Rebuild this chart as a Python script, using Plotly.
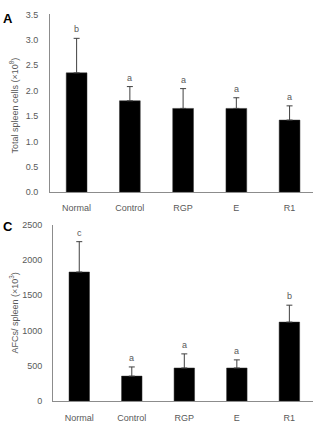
import plotly.graph_objects as go
from plotly.subplots import make_subplots

categories = ["Normal", "Control", "RGP", "E", "R1"]

# Panel A: total spleen cells (x10^8)
cells_mean = [2.35, 1.80, 1.65, 1.65, 1.42]
cells_err = [0.68, 0.28, 0.39, 0.21, 0.28]
cells_letters = ["b", "a", "a", "a", "a"]

# Panel C: AFCs per spleen (x10^3)
afc_mean = [1830, 355, 470, 470, 1120]
afc_err = [430, 130, 200, 115, 240]
afc_letters = ["c", "a", "a", "a", "b"]

W, H = 313, 426
TXT = "#595959"
AX = "#8c8c8c"
FONT = "Liberation Sans, Arial, sans-serif"

fig = go.Figure()

def add_panel(xa, ya, means, errs):
    fig.add_trace(go.Bar(
        x=categories, y=means, xaxis=xa, yaxis=ya,
        marker=dict(color="black", line=dict(color="#333333", width=0.5)),
        width=0.39,
        error_y=dict(type="data", symmetric=False, array=errs,
                     arrayminus=[0] * len(errs), color="#404040",
                     thickness=1, width=3),
        showlegend=False, hoverinfo="skip",
    ))

add_panel("x", "y", cells_mean, cells_err)
add_panel("x2", "y2", afc_mean, afc_err)

def top_pos(px, H=H):
    return 1 - px / H

axis_common = dict(showline=True, linecolor=AX, linewidth=1, showgrid=False,
                   zeroline=False, tickfont=dict(size=9, color=TXT, family=FONT))

fig.update_layout(
    width=W, height=H, margin=dict(l=0, r=0, t=0, b=0),
    paper_bgcolor="white", plot_bgcolor="white",
    font=dict(family=FONT, color=TXT, size=9),
    bargap=0.6,
    xaxis=dict(domain=[50 / W, 1], range=[-0.5, 4.44], anchor="y",
               ticks="outside", ticklen=7, tickcolor="rgba(0,0,0,0)", **axis_common),
    yaxis=dict(domain=[top_pos(191.7), top_pos(9.7)], range=[0, 3.5], dtick=0.5,
               tickformat=".1f", anchor="x",
               ticks="outside", ticklen=9, tickcolor="rgba(0,0,0,0)", **axis_common),
    xaxis2=dict(domain=[53 / W, 1], range=[-0.5, 4.45], anchor="y2",
                ticks="outside", ticklen=8, tickcolor="rgba(0,0,0,0)", **axis_common),
    yaxis2=dict(domain=[top_pos(405.7), top_pos(225)], range=[0, 2500], dtick=500,
                anchor="x2",
                ticks="outside", ticklen=8, tickcolor="rgba(0,0,0,0)", **axis_common),
)

annotations = []
for cat, m, e, lab in zip(categories, cells_mean, cells_err, cells_letters):
    annotations.append(dict(x=cat, y=m + e, xref="x", yref="y", text=lab,
                            showarrow=False, yanchor="middle", yshift=9,
                            font=dict(size=9, color=TXT, family=FONT)))
for cat, m, e, lab in zip(categories, afc_mean, afc_err, afc_letters):
    annotations.append(dict(x=cat, y=m + e, xref="x2", yref="y2", text=lab,
                            showarrow=False, yanchor="middle", yshift=9,
                            font=dict(size=9, color=TXT, family=FONT)))

annotations += [
    dict(x=8 / W, y=top_pos(14), xref="paper", yref="paper", text="<b>A</b>",
         showarrow=False, xanchor="center", yanchor="middle",
         font=dict(size=13, color="black", family=FONT)),
    dict(x=8 / W, y=top_pos(227), xref="paper", yref="paper", text="<b>C</b>",
         showarrow=False, xanchor="center", yanchor="middle",
         font=dict(size=13, color="black", family=FONT)),
    dict(x=14 / W, y=top_pos(103), xref="paper", yref="paper",
         text="Total spleen cells (×10<sup>8</sup>)", textangle=-90,
         showarrow=False, xanchor="center", yanchor="middle",
         font=dict(size=9, color=TXT, family=FONT)),
    dict(x=14 / W, y=top_pos(316), xref="paper", yref="paper",
         text="AFCs/ spleen (×10<sup>3</sup>)", textangle=-90,
         showarrow=False, xanchor="center", yanchor="middle",
         font=dict(size=9, color=TXT, family=FONT)),
]
fig.update_layout(annotations=annotations)

fig.write_html("out.html")
